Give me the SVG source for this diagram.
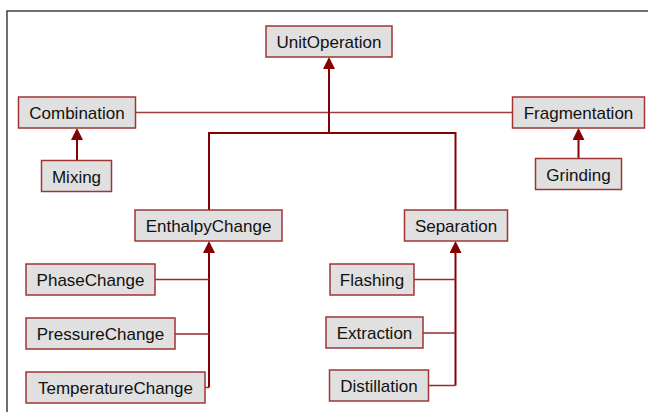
<svg xmlns="http://www.w3.org/2000/svg" width="648" height="412" viewBox="0 0 648 412">
<style>
.box{fill:#e0e0e0;stroke:#a03535;stroke-width:1.5}
.lbl{font-family:"Liberation Sans",Arial,sans-serif;font-size:17px;fill:#111;text-anchor:middle}
.trunk{fill:none;stroke:#850000;stroke-width:2}
.stub{fill:none;stroke:#9a2a2a;stroke-width:1.5}
.assoc{fill:none;stroke:#a03a3a;stroke-width:1.3}
</style>
<defs>
<marker id="tri" viewBox="0 0 12 12" refX="0" refY="6" markerWidth="12" markerHeight="12" markerUnits="userSpaceOnUse" orient="auto">
<path d="M0,0 L12,6 L0,12 z" fill="#850000"/>
</marker>
</defs>
<rect x="7" y="11" width="700" height="500" fill="#fff" stroke="#404040" stroke-width="1.5"/>
<g id="connectors">
<path class="assoc" d="M135,112.5 H512"/>
<path class="trunk" d="M329,133 V69" marker-end="url(#tri)"/>
<path class="trunk" d="M209,210 V133 H455.5 V210"/>
<path class="trunk" d="M77,160 V140" marker-end="url(#tri)"/>
<path class="trunk" d="M578.5,158 V140" marker-end="url(#tri)"/>
<path class="trunk" d="M209,387.5 V253" marker-end="url(#tri)"/>
<path class="stub" d="M155,279.5 H209 M175,334 H209 M205,387.5 H209"/>
<path class="trunk" d="M455.5,385.5 V253" marker-end="url(#tri)"/>
<path class="stub" d="M414,279.5 H455.5 M423,333 H455.5 M428,385.5 H455.5"/>
</g>
<g id="UnitOperation"><rect class="box" x="266" y="26" width="126" height="31"/><text class="lbl" x="329" y="48">UnitOperation</text></g>
<g id="Combination"><rect class="box" x="18.5" y="97" width="117" height="31"/><text class="lbl" x="77" y="119">Combination</text></g>
<g id="Fragmentation"><rect class="box" x="512.5" y="97" width="132" height="31"/><text class="lbl" x="578.5" y="119">Fragmentation</text></g>
<g id="Mixing"><rect class="box" x="41.5" y="160.5" width="70" height="31"/><text class="lbl" x="76.5" y="182.5">Mixing</text></g>
<g id="Grinding"><rect class="box" x="535.5" y="158.5" width="86" height="31"/><text class="lbl" x="578.5" y="180.5">Grinding</text></g>
<g id="EnthalpyChange"><rect class="box" x="135" y="210" width="147" height="31"/><text class="lbl" x="208.5" y="232">EnthalpyChange</text></g>
<g id="Separation"><rect class="box" x="404.5" y="210" width="103" height="31"/><text class="lbl" x="456" y="232">Separation</text></g>
<g id="PhaseChange"><rect class="box" x="26" y="264" width="129" height="31"/><text class="lbl" x="90.5" y="286">PhaseChange</text></g>
<g id="PressureChange"><rect class="box" x="26" y="318" width="149" height="31"/><text class="lbl" x="100.5" y="340">PressureChange</text></g>
<g id="TemperatureChange"><rect class="box" x="26" y="372" width="179" height="31"/><text class="lbl" x="115.5" y="394">TemperatureChange</text></g>
<g id="Flashing"><rect class="box" x="330" y="264" width="84" height="31"/><text class="lbl" x="372" y="286">Flashing</text></g>
<g id="Extraction"><rect class="box" x="326" y="317" width="97" height="31"/><text class="lbl" x="374.5" y="339">Extraction</text></g>
<g id="Distillation"><rect class="box" x="329.5" y="370" width="99" height="31"/><text class="lbl" x="379" y="392">Distillation</text></g>
</svg>
